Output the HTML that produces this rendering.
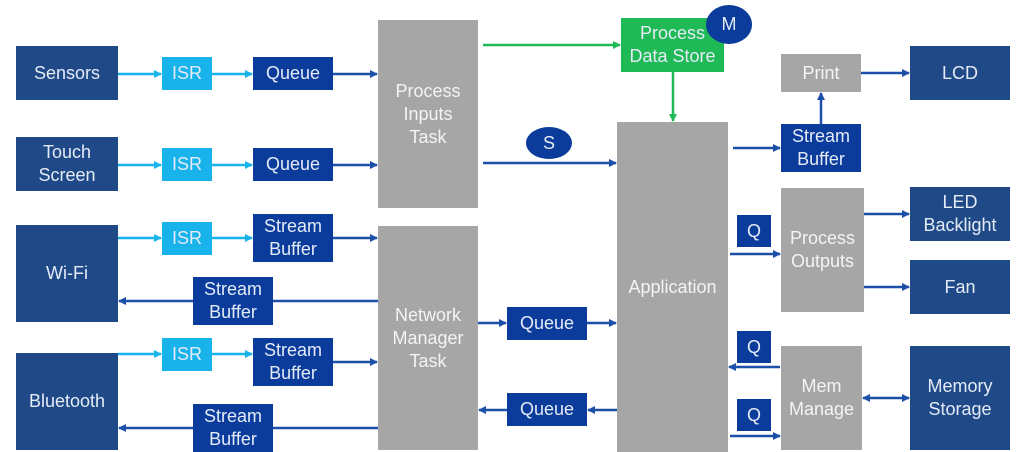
<!DOCTYPE html>
<html><head><meta charset="utf-8"><style>
body{margin:0;width:1024px;height:452px;background:#fff;position:relative;overflow:hidden;font-family:"Liberation Sans",sans-serif}
.b{position:absolute;display:flex;align-items:center;justify-content:center;text-align:center;color:#e4ebf7;font-size:18px;line-height:23px;box-sizing:border-box}
.n{background:#1f4a87}.d{background:#0b3c9c}.l{background:#19b3ec}.g{background:#a6a6a6;color:#f4f4f4}.gr{background:#1fba55}
svg{position:absolute;left:0;top:0}
</style></head><body>
<svg width="1024" height="452">
<defs>
<marker id="a" markerWidth="8" markerHeight="8" refX="7" refY="4" orient="auto" markerUnits="userSpaceOnUse"><path d="M0,0L8,4L0,8z" fill="#1c4fa8"/></marker>
<marker id="c" markerWidth="8" markerHeight="8" refX="7" refY="4" orient="auto" markerUnits="userSpaceOnUse"><path d="M0,0L8,4L0,8z" fill="#19b3ec"/></marker>
<marker id="e" markerWidth="8" markerHeight="8" refX="7" refY="4" orient="auto" markerUnits="userSpaceOnUse"><path d="M0,0L8,4L0,8z" fill="#1fba55"/></marker>
<marker id="s" markerWidth="8" markerHeight="8" refX="1" refY="4" orient="auto" markerUnits="userSpaceOnUse"><path d="M8,0L0,4L8,8z" fill="#1c4fa8"/></marker>
</defs>
<g stroke="#19b3ec" stroke-width="2.5" marker-end="url(#c)">
<line x1="118" y1="74" x2="161" y2="74"/><line x1="212" y1="74" x2="252" y2="74"/>
<line x1="118" y1="165" x2="161" y2="165"/><line x1="212" y1="165" x2="252" y2="165"/>
<line x1="118" y1="238" x2="161" y2="238"/><line x1="212" y1="238" x2="252" y2="238"/>
<line x1="118" y1="354" x2="161" y2="354"/><line x1="212" y1="354" x2="252" y2="354"/>
</g>
<g stroke="#1c4fa8" stroke-width="2.5" marker-end="url(#a)">
<line x1="333" y1="74" x2="377" y2="74"/><line x1="333" y1="165" x2="377" y2="165"/>
<line x1="333" y1="238" x2="377" y2="238"/><line x1="333" y1="362" x2="377" y2="362"/>
<line x1="378" y1="301" x2="119" y2="301"/>
<line x1="378" y1="428" x2="119" y2="428"/>
<line x1="483" y1="163" x2="616" y2="163"/>
<line x1="478" y1="323" x2="506" y2="323"/><line x1="587" y1="323" x2="616" y2="323"/>
<line x1="617" y1="410" x2="588" y2="410"/><line x1="507" y1="410" x2="479" y2="410"/>
<line x1="733" y1="148" x2="780" y2="148"/>
<line x1="821" y1="124" x2="821" y2="93"/>
<line x1="861" y1="73" x2="909" y2="73"/>
<line x1="730" y1="254" x2="780" y2="254"/>
<line x1="864" y1="214" x2="909" y2="214"/>
<line x1="864" y1="287" x2="909" y2="287"/>
<line x1="780" y1="367" x2="729" y2="367"/>
<line x1="730" y1="436" x2="780" y2="436"/>
<line x1="863" y1="398" x2="909" y2="398" marker-start="url(#s)"/>
</g>
<g stroke="#1fba55" stroke-width="2.5" marker-end="url(#e)">
<line x1="483" y1="45" x2="620" y2="45"/><line x1="673" y1="72" x2="673" y2="121"/>
</g>
</svg>
<div class="b n" style="left:16px;top:46px;width:102px;height:54px">Sensors</div>
<div class="b n" style="left:16px;top:137px;width:102px;height:54px">Touch<br>Screen</div>
<div class="b n" style="left:16px;top:225px;width:102px;height:97px">Wi-Fi</div>
<div class="b n" style="left:16px;top:353px;width:102px;height:97px">Bluetooth</div>
<div class="b l" style="left:162px;top:57px;width:50px;height:33px">ISR</div>
<div class="b l" style="left:162px;top:148px;width:50px;height:33px">ISR</div>
<div class="b l" style="left:162px;top:222px;width:50px;height:33px">ISR</div>
<div class="b l" style="left:162px;top:338px;width:50px;height:33px">ISR</div>
<div class="b d" style="left:253px;top:57px;width:80px;height:33px">Queue</div>
<div class="b d" style="left:253px;top:148px;width:80px;height:33px">Queue</div>
<div class="b d" style="left:253px;top:214px;width:80px;height:48px">Stream<br>Buffer</div>
<div class="b d" style="left:253px;top:338px;width:80px;height:48px">Stream<br>Buffer</div>
<div class="b d" style="left:193px;top:277px;width:80px;height:48px">Stream<br>Buffer</div>
<div class="b d" style="left:193px;top:404px;width:80px;height:48px">Stream<br>Buffer</div>
<div class="b g" style="left:378px;top:20px;width:100px;height:188px">Process<br>Inputs<br>Task</div>
<div class="b g" style="left:378px;top:226px;width:100px;height:224px">Network<br>Manager<br>Task</div>
<div class="b d" style="left:507px;top:307px;width:80px;height:33px">Queue</div>
<div class="b d" style="left:507px;top:393px;width:80px;height:33px">Queue</div>
<div class="b g" style="left:617px;top:122px;width:111px;height:330px">Application</div>
<div class="b gr" style="left:621px;top:18px;width:103px;height:54px">Process<br>Data Store</div>
<div class="b d" style="left:706px;top:5px;width:46px;height:39px;border-radius:50%">M</div>
<div class="b d" style="left:526px;top:127px;width:46px;height:32px;border-radius:50%">S</div>
<div class="b g" style="left:781px;top:54px;width:80px;height:38px">Print</div>
<div class="b d" style="left:781px;top:124px;width:80px;height:48px">Stream<br>Buffer</div>
<div class="b g" style="left:781px;top:188px;width:83px;height:124px">Process<br>Outputs</div>
<div class="b d" style="left:737px;top:215px;width:34px;height:32px">Q</div>
<div class="b d" style="left:737px;top:331px;width:34px;height:32px">Q</div>
<div class="b d" style="left:737px;top:399px;width:34px;height:32px">Q</div>
<div class="b g" style="left:781px;top:346px;width:81px;height:104px">Mem<br>Manage</div>
<div class="b n" style="left:910px;top:46px;width:100px;height:54px">LCD</div>
<div class="b n" style="left:910px;top:187px;width:100px;height:54px">LED<br>Backlight</div>
<div class="b n" style="left:910px;top:260px;width:100px;height:54px">Fan</div>
<div class="b n" style="left:910px;top:346px;width:100px;height:104px">Memory<br>Storage</div>
</body></html>
